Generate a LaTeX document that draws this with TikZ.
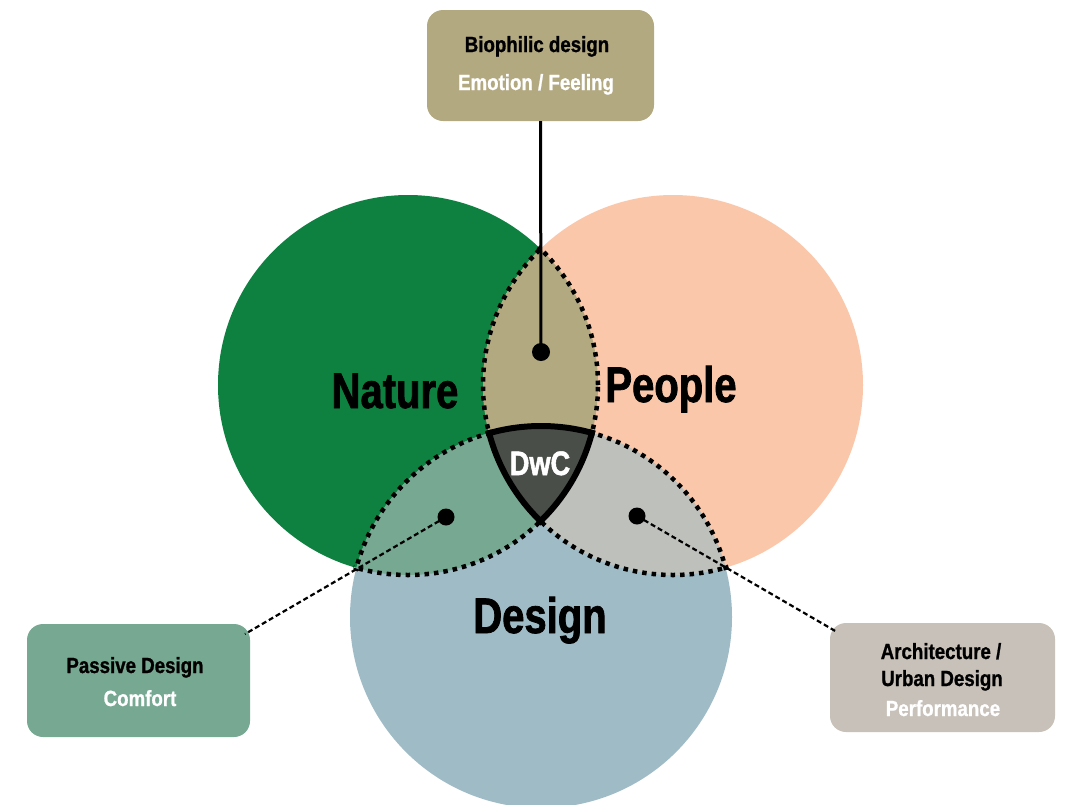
\documentclass[tikz,border=0pt]{standalone}
\usepackage{fontspec}
\setmainfont{Liberation Sans}
\newfontfamily\bigfont{Liberation Sans Bold}[FakeStretch=0.8,FakeBold=1.5]
\newfontfamily\boxfont{Liberation Sans Bold}[FakeStretch=0.85,FakeBold=1]
\definecolor{natc}{RGB}{14,128,64}
\definecolor{peoc}{RGB}{250,199,170}
\definecolor{desc}{RGB}{159,187,198}
\definecolor{npc}{RGB}{179,169,129}
\definecolor{ndc}{RGB}{118,168,146}
\definecolor{pdc}{RGB}{190,192,188}
\definecolor{dwcc}{RGB}{74,78,72}
\definecolor{archc}{RGB}{200,193,185}
\begin{document}
\begin{tikzpicture}[x=1pt,y=-1pt,
  dotb/.style={line width=4.5pt, dash pattern=on 4.5pt off 5pt, black},
  tborder/.style={line width=6pt, black},
  conn/.style={line width=2.2pt, black, dash pattern=on 5pt off 3pt},
  topconn/.style={line width=3pt, black},
  endpt/.style={circle, fill=black, inner sep=0pt, minimum size=18pt},
  rbox/.style={rounded corners=16pt, inner sep=0pt, draw=none},
  biglbl/.style={anchor=base, font=\bigfont\fontsize{50}{60}\selectfont, text=black},
  boxtxt/.style={anchor=base, font=\boxfont\fontsize{22}{26}\selectfont, text=black},
  boxsub/.style={anchor=base, font=\boxfont\fontsize{22}{26}\selectfont, text=white}]
\useasboundingbox (0,0) rectangle (1073,804);
\coordinate (nc) at (408,385);
\coordinate (pc) at (673,385);
\coordinate (dc) at (541,617);
% circles
\fill[natc] (nc) circle[radius=190pt];
\fill[peoc] (pc) circle[radius=190pt];
\fill[desc] (dc) circle[radius=191pt];
% pair regions
\begin{scope}\clip (nc) circle[radius=190pt]; \fill[npc] (pc) circle[radius=190pt];\end{scope}
\begin{scope}\clip (nc) circle[radius=190pt]; \fill[ndc] (dc) circle[radius=191pt];\end{scope}
\begin{scope}\clip (pc) circle[radius=190pt]; \fill[pdc] (dc) circle[radius=191pt];\end{scope}
% triple region
\begin{scope}\clip (nc) circle[radius=190pt]; \clip (pc) circle[radius=190pt]; \fill[dwcc] (dc) circle[radius=191pt];\end{scope}
% dotted borders
\begin{scope}\clip (nc) circle[radius=193pt]; \draw[dotb] (pc) circle[radius=190pt];\end{scope}
\begin{scope}\clip (pc) circle[radius=193pt]; \draw[dotb] (nc) circle[radius=190pt];\end{scope}
\begin{scope}\clip (nc) circle[radius=193pt]; \draw[dotb] (dc) circle[radius=191pt];\end{scope}
\begin{scope}\clip (dc) circle[radius=194pt]; \draw[dotb] (nc) circle[radius=190pt];\end{scope}
\begin{scope}\clip (pc) circle[radius=193pt]; \draw[dotb] (dc) circle[radius=191pt];\end{scope}
\begin{scope}\clip (dc) circle[radius=194pt]; \draw[dotb] (pc) circle[radius=190pt];\end{scope}
% triple border
\begin{scope}\clip (nc) circle[radius=193pt]; \clip (pc) circle[radius=193pt]; \draw[tborder] (dc) circle[radius=191pt];\end{scope}
\begin{scope}\clip (nc) circle[radius=193pt]; \clip (dc) circle[radius=194pt]; \draw[tborder] (pc) circle[radius=190pt];\end{scope}
\begin{scope}\clip (pc) circle[radius=193pt]; \clip (dc) circle[radius=194pt]; \draw[tborder] (nc) circle[radius=190pt];\end{scope}
% labels
\node[biglbl] (tN) at (395,408) {Nature};
\node[biglbl] (tP) at (671,402) {People};
\node[biglbl] (tD) at (540,633) {Design};
\node[anchor=base, font=\bigfont\fontsize{34}{40}\selectfont, text=white] (tW) at (540,475) {DwC};
% end points
\node[endpt] (dotN) at (541,352) {};
\node[endpt, minimum size=17pt] (dotL) at (446,517) {};
\node[endpt, minimum size=17pt] (dotR) at (637,516) {};
% boxes
\node[rbox, fill=npc, minimum width=227pt, minimum height=111pt] (bioBox) at (540.5,65.5) {};
\node[rbox, fill=ndc, minimum width=223pt, minimum height=113pt] (pasBox) at (138.5,680.5) {};
\node[rbox, fill=archc, minimum width=225pt, minimum height=109pt] (arcBox) at (942.5,677.5) {};
% connectors
\draw[topconn] (bioBox.south) -- (dotN.center);
\coordinate (lEnd) at (245,634);
\coordinate (rEnd) at (837,632);
\draw[conn] (dotL.center) -- (lEnd);
\draw[conn] (dotR.center) -- (rEnd);
% box texts
\node[boxtxt] (bioT) at (537,52) {Biophilic design};
\node[boxsub] (bioS) at (536,90) {Emotion / Feeling};
\node[boxtxt] (pasT) at (135,673) {Passive Design};
\node[boxsub] (pasS) at (140,706) {Comfort};
\node[boxtxt] (arcT1) at (941,659) {Architecture /};
\node[boxtxt] (arcT2) at (942,686) {Urban Design};
\node[boxsub] (arcS) at (943,716) {Performance};
\end{tikzpicture}
\end{document}
